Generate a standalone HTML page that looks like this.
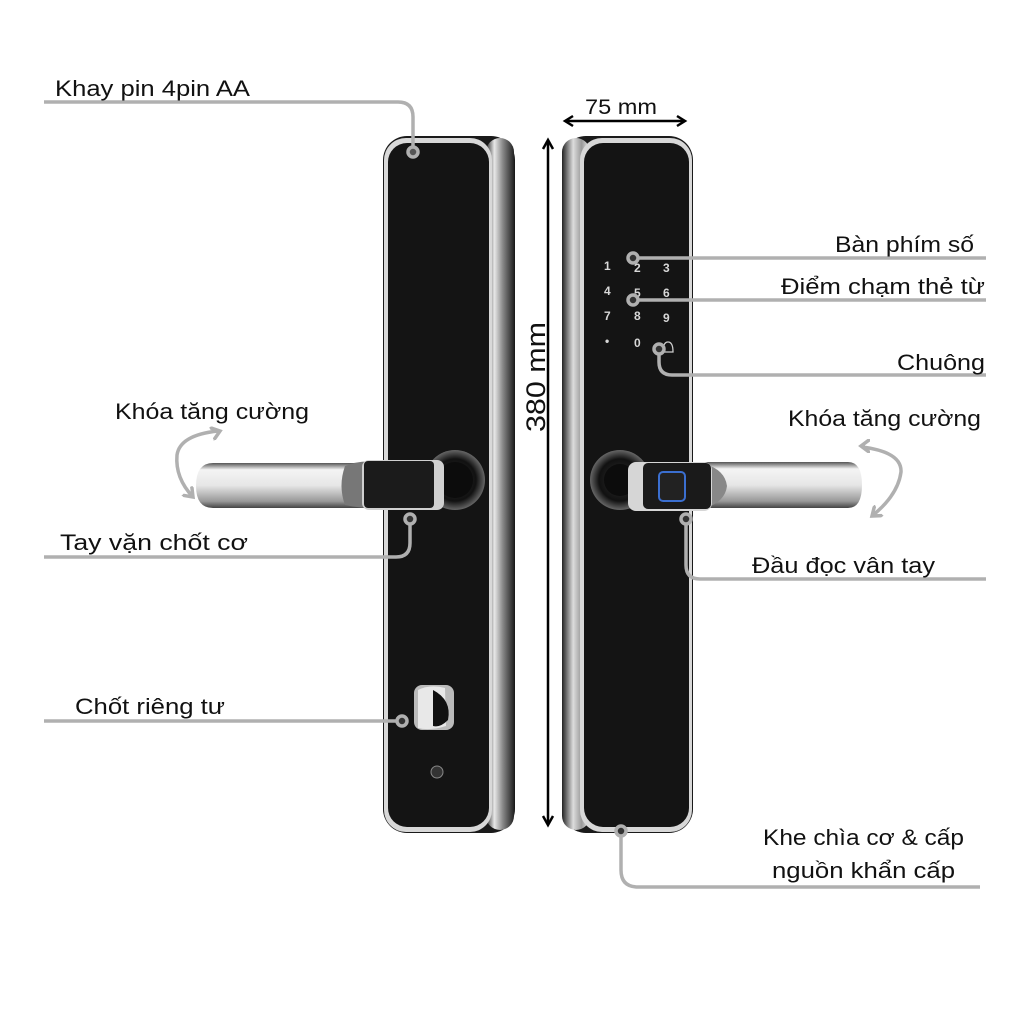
<!DOCTYPE html>
<html><head><meta charset="utf-8"><style>
html,body{margin:0;padding:0;background:#fff}
svg{display:block}
.t{font-family:"Liberation Sans","DejaVu Sans",sans-serif;fill:#111}
.k{font-family:"Liberation Sans",sans-serif;fill:#d8d8d8;font-weight:bold;font-size:12px}
</style></head><body>
<svg width="1024" height="1024" viewBox="0 0 1024 1024" xmlns="http://www.w3.org/2000/svg">
<defs>
<linearGradient id="side" x1="0" x2="1"><stop offset="0" stop-color="#2a2a2a"/><stop offset="0.3" stop-color="#e8e8e8"/><stop offset="0.6" stop-color="#888"/><stop offset="1" stop-color="#222"/></linearGradient>
<linearGradient id="sideR" x1="0" x2="1"><stop offset="0" stop-color="#222"/><stop offset="0.4" stop-color="#ddd"/><stop offset="0.7" stop-color="#999"/><stop offset="1" stop-color="#eee"/></linearGradient>
<linearGradient id="bar" x1="0" y1="0" x2="0" y2="1"><stop offset="0" stop-color="#555"/><stop offset="0.15" stop-color="#f4f4f4"/><stop offset="0.5" stop-color="#e6e6e6"/><stop offset="0.85" stop-color="#999"/><stop offset="1" stop-color="#444"/></linearGradient>
<radialGradient id="rose"><stop offset="0" stop-color="#333"/><stop offset="0.7" stop-color="#111"/><stop offset="1" stop-color="#666"/></radialGradient>
<marker id="gh" markerWidth="14" markerHeight="14" refX="9" refY="7" orient="auto" markerUnits="userSpaceOnUse"><path d="M1,1 L9,7 L1,13" fill="none" stroke="#b0b0b0" stroke-width="3.5" stroke-linecap="round"/></marker>
</defs>

<!-- LEFT LOCK -->
<rect x="383" y="136" width="132" height="697" rx="24" fill="#1a1a1a"/>
<rect x="486" y="138" width="28" height="692" rx="14" fill="url(#side)"/>
<rect x="384" y="138" width="108" height="694" rx="22" fill="#d8d8d8"/>
<rect x="388" y="143" width="101" height="684" rx="19" fill="#141414"/>

<!-- RIGHT LOCK -->
<rect x="562" y="136" width="131" height="697" rx="24" fill="#1a1a1a"/>
<rect x="562" y="138" width="28" height="692" rx="14" fill="url(#sideR)"/>
<rect x="580" y="138" width="112" height="694" rx="22" fill="#d8d8d8"/>
<rect x="584" y="143" width="105" height="684" rx="19" fill="#141414"/>

<!-- keypad -->
<text class="k" x="604" y="270">1</text><text class="k" x="634" y="272">2</text><text class="k" x="663" y="272">3</text>
<text class="k" x="604" y="295">4</text><text class="k" x="634" y="297">5</text><text class="k" x="663" y="297">6</text>
<text class="k" x="604" y="320">7</text><text class="k" x="634" y="320">8</text><text class="k" x="663" y="322">9</text>
<text class="k" x="605" y="345">•</text><text class="k" x="634" y="347">0</text>
<path d="M663,352 q0,-10 5,-10 q5,0 5,10 z" fill="none" stroke="#ccc" stroke-width="1.3"/>

<!-- left handle -->
<path d="M213,463 H375 V508 H213 Q196,508 196,486 Q196,463 213,463 Z" fill="url(#bar)"/>
<path d="M345,466 Q360,460 375,462 V508 Q358,508 345,505 Q338,486 345,466 Z" fill="#777"/>
<circle cx="455" cy="480" r="30" fill="url(#rose)"/>
<circle cx="455" cy="480" r="18" fill="#0c0c0c"/>
<rect x="362" y="460" width="82" height="50" rx="7" fill="#d0d0d0"/>
<rect x="364" y="461" width="70" height="47" rx="4" fill="#1b1b1b"/>

<!-- right handle -->
<path d="M705,462 H848 Q862,462 862,485 Q862,508 848,508 H705 Z" fill="url(#bar)"/>
<path d="M705,464 Q725,470 727,486 Q725,502 705,508 Z" fill="#888"/>
<circle cx="620" cy="480" r="30" fill="url(#rose)"/>
<circle cx="620" cy="480" r="16" fill="#0c0c0c"/>
<rect x="628" y="462" width="84" height="49" rx="8" fill="#d6d6d6"/>
<rect x="643" y="463" width="68" height="46" rx="5" fill="#1a1a1a"/>
<rect x="659" y="472" width="26" height="29" rx="4" fill="#222" stroke="#3b6fd0" stroke-width="2"/>

<!-- privacy knob -->
<rect x="414" y="685" width="40" height="45" rx="8" fill="#bbb"/>
<path d="M418,690 Q430,684 445,688 L446,726 Q430,731 418,728 Z" fill="#e8e8e8"/>
<path d="M433,690 Q452,700 448,720 Q440,728 433,726 Z" fill="#111"/>
<circle cx="437" cy="772" r="6" fill="#333" stroke="#888" stroke-width="1"/>

<!-- dimensions -->
<text class="t" x="585" y="114" font-size="21" textLength="72" lengthAdjust="spacingAndGlyphs">75 mm</text>
<line x1="566" y1="121" x2="684" y2="121" stroke="#000" stroke-width="2.5"/>
<path d="M573,116 L565,121 L573,126" fill="none" stroke="#000" stroke-width="2.5"/>
<path d="M677,116 L685,121 L677,126" fill="none" stroke="#000" stroke-width="2.5"/>
<line x1="548" y1="140" x2="548" y2="825" stroke="#000" stroke-width="2.5"/>
<path d="M543,149 L548,140 L553,149" fill="none" stroke="#000" stroke-width="2.5"/>
<path d="M543,816 L548,825 L553,816" fill="none" stroke="#000" stroke-width="2.5"/>
<text class="t" transform="translate(545,377) rotate(-90)" font-size="27" text-anchor="middle" textLength="110" lengthAdjust="spacingAndGlyphs">380 mm</text>

<!-- connectors -->
<g fill="none" stroke="#b0b0b0" stroke-width="3.5">
<path d="M44,102 H398 Q413,102 413,117 V148"/>
<circle cx="413" cy="152" r="5" fill="#555"/>
<path d="M44,557 H396 Q410,557 410,543 V523"/>
<circle cx="410" cy="519" r="5" fill="#333"/>
<path d="M44,721 H397"/>
<circle cx="402" cy="721" r="5" fill="#333"/>
<path d="M638,258 H986"/>
<circle cx="633" cy="258" r="5" fill="#333"/>
<path d="M638,300 H986"/>
<circle cx="633" cy="300" r="5" fill="#333"/>
<path d="M659,354 V362 Q659,375 672,375 H986"/>
<circle cx="659" cy="349" r="5" fill="#333"/>
<path d="M686,523 V565 Q686,579 700,579 H986"/>
<circle cx="686" cy="519" r="5" fill="#333"/>
<path d="M621,836 V870 Q621,887 638,887 H980"/>
<circle cx="621" cy="831" r="5" fill="#333"/>
<path d="M218,431 Q180,435 177,455 Q175,478 193,497" marker-end="url(#gh)"/>
<path d="M217,432 L220,431" marker-end="url(#gh)"/>
<path d="M862,447 Q902,452 901,472 Q898,495 872,516" marker-end="url(#gh)"/>
<path d="M865,446 L861,446" marker-end="url(#gh)"/>
</g>

<!-- labels -->
<g font-size="22">
<text class="t" x="55" y="96" textLength="195" lengthAdjust="spacingAndGlyphs">Khay pin 4pin AA</text>
<text class="t" x="115" y="419" textLength="194" lengthAdjust="spacingAndGlyphs">Khóa tăng cường</text>
<text class="t" x="60" y="550" textLength="188" lengthAdjust="spacingAndGlyphs">Tay vặn chốt cơ</text>
<text class="t" x="75" y="714" textLength="150" lengthAdjust="spacingAndGlyphs">Chốt riêng tư</text>
<text class="t" x="835" y="252" textLength="139" lengthAdjust="spacingAndGlyphs">Bàn phím số</text>
<text class="t" x="781" y="294" textLength="204" lengthAdjust="spacingAndGlyphs">Điểm chạm thẻ từ</text>
<text class="t" x="897" y="370" textLength="88" lengthAdjust="spacingAndGlyphs">Chuông</text>
<text class="t" x="788" y="426" textLength="193" lengthAdjust="spacingAndGlyphs">Khóa tăng cường</text>
<text class="t" x="752" y="573" textLength="183" lengthAdjust="spacingAndGlyphs">Đầu đọc vân tay</text>
<text class="t" x="763" y="845" textLength="201" lengthAdjust="spacingAndGlyphs">Khe chìa cơ &amp; cấp</text>
<text class="t" x="772" y="878" textLength="183" lengthAdjust="spacingAndGlyphs">nguồn khẩn cấp</text>
</g>
</svg>
</body></html>
